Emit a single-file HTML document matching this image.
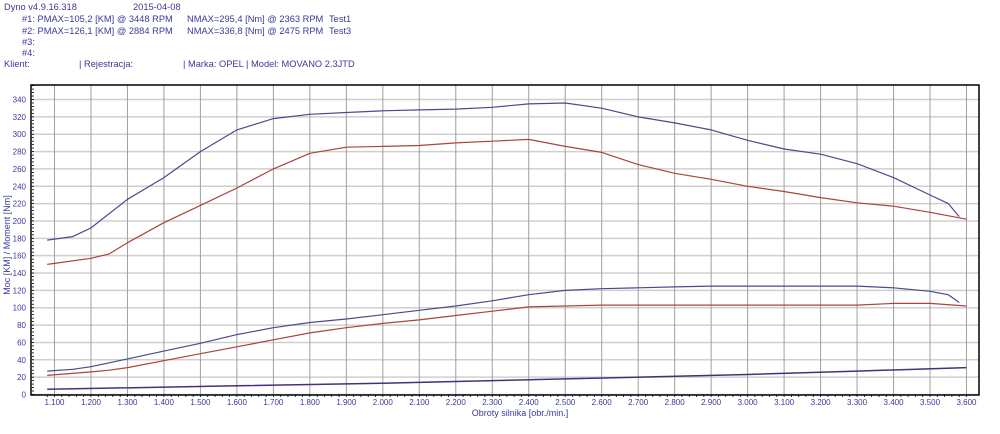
<!DOCTYPE html>
<html><head><meta charset="utf-8"><style>
body{margin:0;background:#fff;width:1000px;height:429px;overflow:hidden;font-family:"Liberation Sans",sans-serif}
svg text{font-family:"Liberation Sans",sans-serif}
</style></head><body>
<svg id="c" width="1000" height="429">
<g font-size="9.3" fill="#3a3a9a">
<text x="4" y="10">Dyno v4.9.16.318</text><text x="133" y="10">2015-04-08</text>
<text x="22" y="22">#1: PMAX=105,2 [KM] @ 3448 RPM</text><text x="187" y="22">NMAX=295,4 [Nm] @ 2363 RPM</text><text x="329" y="22">Test1</text>
<text x="22" y="34">#2: PMAX=126,1 [KM] @ 2884 RPM</text><text x="187" y="34">NMAX=336,8 [Nm] @ 2475 RPM</text><text x="329" y="34">Test3</text>
<text x="22" y="45">#3:</text><text x="22" y="56">#4:</text>
<text x="4" y="67">Klient:</text><text x="79" y="67">| Rejestracja:</text><text x="183" y="67">| Marka: OPEL | Model: MOVANO 2.3JTD</text>
</g>
<g id="grid"></g><g id="series"></g><g id="axes"></g>
<text x="520" y="416" font-size="9" fill="#3a3a9a" text-anchor="middle">Obroty silnika [obr./min.]</text>
<text transform="translate(10,245) rotate(-90)" font-size="9" fill="#3a3a9a" text-anchor="middle">Moc [KM] / Moment [Nm]</text>
</svg>
<script>
const rpm=[1.08,1.15,1.2,1.3,1.4,1.5,1.6,1.7,1.8,1.9,2.0,2.1,2.2,2.3,2.4,2.5,2.6,2.7,2.8,2.9,3.0,3.1,3.2,3.3,3.4,3.5,3.55,3.58];
const torqueTest3=[178,182,192,225,250,280,305,318,323,325,327,328,329,331,335,336,330,320,313,305,293,283,277,266,250,230,220,205];
const powerTest3=[27,29,32,41,50,59,69,77,83,87,92,97,102,108,115,120,122,123,124,125,125,125,125,125,123,119,115,106];
const rpm1=[1.08,1.2,1.25,1.3,1.4,1.5,1.6,1.7,1.8,1.9,2.0,2.1,2.2,2.3,2.4,2.5,2.6,2.7,2.8,2.9,3.0,3.1,3.2,3.3,3.4,3.5,3.6];
const torqueTest1=[150,157,162,175,198,218,238,260,278,285,286,287,290,292,294,286,279,265,255,248,240,234,227,221,217,210,202];
const powerTest1=[22,26,28,31,39,47,55,63,71,77,82,86,91,96,101,102,103,103,103,103,103,103,103,103,105,105,102];
const lossRpm=[1.08,1.6,2.0,2.5,3.0,3.3,3.6];
const lossVals=[6,10,13,18,23,27,31];
const xTicks=["1.100","1.200","1.300","1.400","1.500","1.600","1.700","1.800","1.900","2.000","2.100","2.200","2.300","2.400","2.500","2.600","2.700","2.800","2.900","3.000","3.100","3.200","3.300","3.400","3.500","3.600"];
const yTicks=[0,20,40,60,80,100,120,140,160,180,200,220,240,260,280,300,320,340];
const X=v=>54.5+(v-1.1)*364.8, Y=v=>394.5-v*0.8676;
const NS="http://www.w3.org/2000/svg";
function mk(p,t,a){const e=document.createElementNS(NS,t);for(const k in a)e.setAttribute(k,a[k]);p.appendChild(e);return e;}
const grid=document.getElementById('grid'),axes=document.getElementById('axes'),ser=document.getElementById('series');
const L=31,R=979,T=85,B=395;
yTicks.forEach(v=>{const l=mk(grid,'line',{x1:L,x2:R,y1:Y(v),y2:Y(v),stroke:'#cfcfcf','stroke-width':1.5});

const t=mk(axes,'text',{x:L-5,y:Y(v)+3,'font-size':8,fill:'#3a3a9a','text-anchor':'end'});t.textContent=v;
});
for(let v=0;v<=356;v+=4){const m=mk(axes,'line',{x1:L+1,x2:L+3,y1:Y(v),y2:Y(v),stroke:'#000','stroke-width':0.8});
}
for(let v=1.08;v<=3.62;v+=0.02){const m=mk(axes,'line',{x1:X(v),x2:X(v),y1:B,y2:B+2,stroke:'#000','stroke-width':0.8});
}
xTicks.forEach(s=>{const x=X(parseFloat(s));const l=mk(grid,'line',{x1:x,x2:x,y1:T,y2:B,stroke:'#a0a0a0','stroke-width':1});

const t=mk(axes,'text',{x:x,y:405,'font-size':8,fill:'#3a3a9a','text-anchor':'middle'});t.textContent=s;
});
const fr=mk(axes,'path',{d:`M${L} ${T}H${R}V${B}H${L}Z`,fill:'none',stroke:'#000','stroke-width':1.5});

function line(xs,ys,col,name,w){const d=xs.map((x,i)=>(i?'L':'M')+X(x).toFixed(1)+' '+Y(ys[i]).toFixed(1)).join('');
const p=mk(ser,'path',{d:d,fill:'none',stroke:col,'stroke-width':w||1.2,'stroke-linejoin':'round'});
}
line(rpm,torqueTest3,'#4a4a8c','torque-test3');
line(rpm1,torqueTest1,'#a8443c','torque-test1');
line(rpm,powerTest3,'#4a4a8c','power-test3');
line(rpm1,powerTest1,'#a8443c','power-test1');
line(lossRpm,lossVals,'#4a2f78','loss-line',1.5);
</script>
</body></html>
